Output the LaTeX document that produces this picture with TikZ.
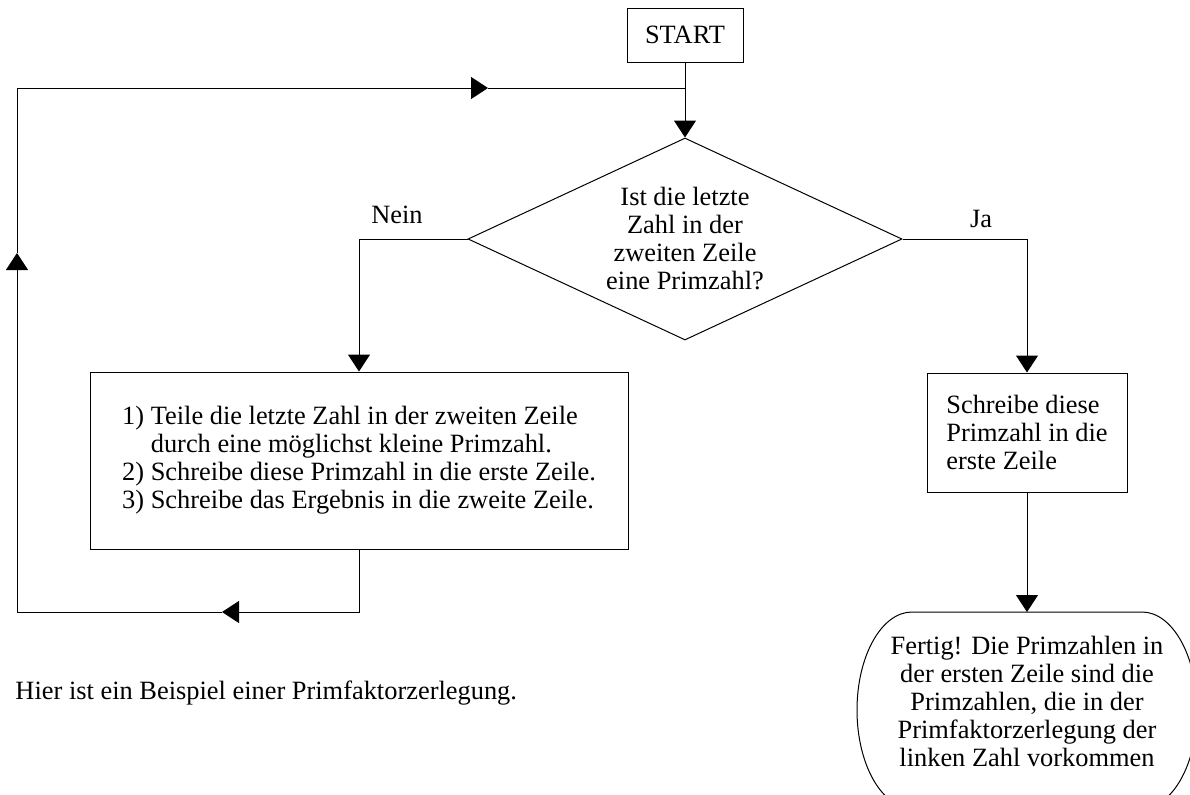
\documentclass[tikz,border=0pt]{standalone}
\usepackage{fontspec}
\setmainfont{Liberation Serif}
\usetikzlibrary{shapes.geometric,arrows.meta}

\begin{document}
\begin{tikzpicture}[x=0.5pt, y=0.5pt, line width=0.5pt, >={Triangle[length=8.5pt,width=11pt]},
		every node/.style={font=\fontsize{13.2}{14}\selectfont},
		box/.style={draw, rectangle, inner sep=0pt, align=left},
		raute/.style={draw, diamond, aspect=2.15, inner sep=0pt, align=center}]
		\useasboundingbox (0,0) rectangle (1190,-794);
		\clip (0,0) rectangle (1190,-794);

		\node[box, minimum width=58pt, minimum height=27pt] (start) at (685,-35) {START};
		\node[raute, minimum width=217pt, minimum height=101pt] (frage) at (685,-239) {Ist die letzte\\Zahl in der\\zweiten Zeile\\eine Primzahl?};
		\node[box, minimum width=269pt, minimum height=88.5pt] (teile) at (359,-460.5) {1) Teile die letzte Zahl in der zweiten Zeile\\\hphantom{1)\ }durch eine möglichst kleine Primzahl.\\2) Schreibe diese Primzahl in die erste Zeile.\\3) Schreibe das Ergebnis in die zweite Zeile.};
		\node[box, minimum width=100pt, minimum height=59.5pt] (schreibe) at (1027,-432.5) {Schreibe diese\\Primzahl in die\\erste Zeile};
		\node[align=center, inner sep=0pt] (fertig) at (1027,-701) {Fertig! Die Primzahlen in\\der ersten Zeile sind die\\Primzahlen, die in der\\Primfaktorzerlegung der\\linken Zahl vorkommen};
		\node (nein) at (397,-215) {Nein};
		\node (ja) at (981,-219) {Ja};
		\node[anchor=west, inner sep=0pt] (hier) at (15,-693) {Hier ist ein Beispiel einer Primfaktorzerlegung.};

		\draw ([shift={(-115,89)}]fertig.center) -- ([shift={(115,89)}]fertig.center)
			arc[start angle=90, end angle=-90, x radius=27.5pt, y radius=49pt]
			-- ([shift={(-115,-107)}]fertig.center)
			arc[start angle=270, end angle=90, x radius=27.5pt, y radius=49pt] -- cycle;

		\coordinate (j0) at (685,-88);
		\coordinate (ftop) at ([yshift=44.5pt]fertig.center);
		\coordinate (r1) at (222,-612);
		\coordinate (r2) at (17,-612);
		\coordinate (r3) at (17,-253);
		\coordinate (r4) at (17,-88);
		\coordinate (r5) at (488,-88);

		\draw (start) -- (j0);
		\draw[->] (j0) -- (frage);
		\draw[->] (frage.west) -| (teile.north);
		\draw[->] (frage.east) -| (schreibe.north);
		\draw[->] (schreibe) -- (ftop);
		\draw[->] (teile.south) |- (r1);
		\draw[->] (r1) -- (r2) -- (r3);
		\draw[->] (r3) -- (r4) -- (r5);
		\draw (r5) -- (j0);
	\end{tikzpicture}
\end{document}
